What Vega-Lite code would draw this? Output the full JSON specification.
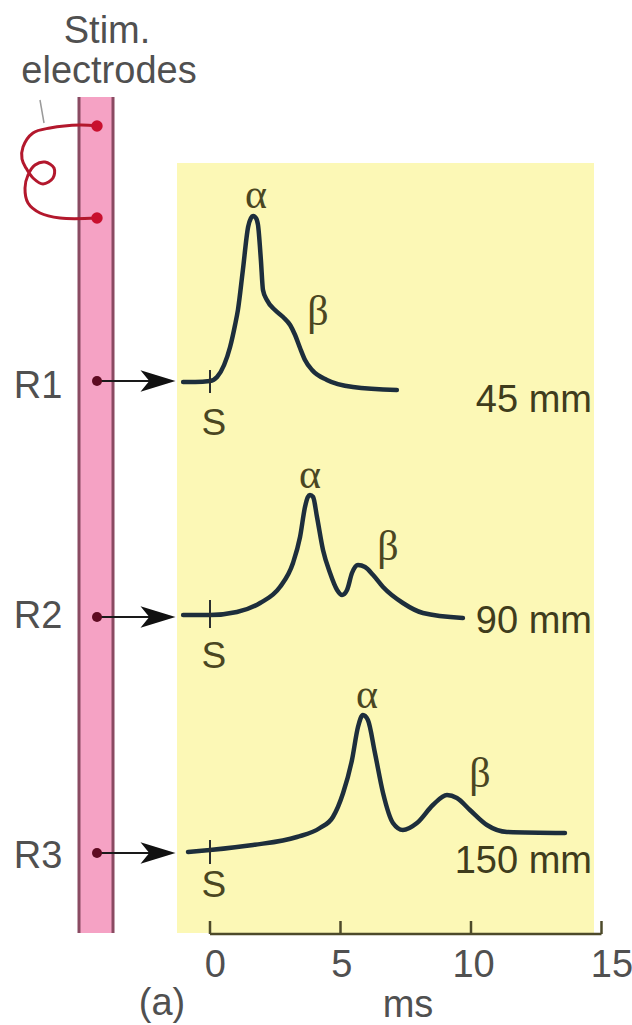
{
  "$schema": "https://vega.github.io/schema/vega-lite/v6.json",
  "width": 632,
  "height": 1025,
  "padding": 0,
  "autosize": {"type": "none"},
  "background": "white",
  "config": {"view": {"stroke": null}},
  "encoding": {
    "x": {"type": "quantitative", "scale": {"domain": [-8.046, 16.169], "nice": false, "zero": false}, "axis": null},
    "y": {"type": "quantitative", "scale": {"domain": [0, 102.5], "nice": false, "zero": false}, "axis": null}
  },
  "layer": [
    {
      "data": {"values": [{"x": -1.264, "x2": 14.713, "y": 86.2, "y2": 9.2}]},
      "mark": {"type": "rect", "fill": "#fcf8b6"},
      "encoding": {"x": {"field": "x"}, "x2": {"field": "x2"}, "y": {"field": "y"}, "y2": {"field": "y2"}}
    },
    {
      "data": {"values": [{"x": -5.0, "x2": -3.74, "y": 92.8, "y2": 9.2}]},
      "mark": {"type": "rect", "fill": "#f5a2c4"},
      "encoding": {"x": {"field": "x"}, "x2": {"field": "x2"}, "y": {"field": "y"}, "y2": {"field": "y2"}}
    },
    {
      "data": {"values": [{"x": -5.019, "y": 92.8, "y2": 9.2}, {"x": -3.716, "y": 92.8, "y2": 9.2}]},
      "mark": {"type": "rule", "stroke": "#8a4a62", "strokeWidth": 3},
      "encoding": {"x": {"field": "x"}, "y": {"field": "y"}, "y2": {"field": "y2"}}
    },
    {
      "data": {"values": [{"x": -6.513, "x2": -6.36, "y": 92.5, "y2": 90.2}]},
      "mark": {"type": "rule", "stroke": "#9a9a9a", "strokeWidth": 1.5},
      "encoding": {"x": {"field": "x"}, "x2": {"field": "x2"}, "y": {"field": "y"}, "y2": {"field": "y2"}}
    },
    {
      "data": {"values": [
        {"o": 1, "x": -4.330, "y": 89.9},
        {"o": 2, "x": -4.981, "y": 90.0},
        {"o": 3, "x": -6.130, "y": 89.7},
        {"o": 4, "x": -6.782, "y": 89.2},
        {"o": 5, "x": -7.165, "y": 87.8},
        {"o": 6, "x": -7.203, "y": 86.6},
        {"o": 7, "x": -7.050, "y": 85.7},
        {"o": 8, "x": -6.782, "y": 84.7},
        {"o": 9, "x": -6.398, "y": 84.1},
        {"o": 10, "x": -6.015, "y": 84.7},
        {"o": 11, "x": -5.977, "y": 85.7},
        {"o": 12, "x": -6.322, "y": 86.3},
        {"o": 13, "x": -6.705, "y": 86.0},
        {"o": 14, "x": -6.973, "y": 85.0},
        {"o": 15, "x": -7.088, "y": 83.7},
        {"o": 16, "x": -6.973, "y": 82.2},
        {"o": 17, "x": -6.513, "y": 81.2},
        {"o": 18, "x": -5.747, "y": 80.7},
        {"o": 19, "x": -4.330, "y": 80.7}
      ]},
      "mark": {"type": "line", "stroke": "#b3182d", "strokeWidth": 3, "interpolate": "catmull-rom"},
      "encoding": {"x": {"field": "x"}, "y": {"field": "y"}, "order": {"field": "o"}}
    },
    {
      "data": {"values": [{"x": -4.330, "y": 89.9}, {"x": -4.330, "y": 80.7}]},
      "mark": {"type": "point", "shape": "circle", "filled": true, "fill": "#c8102e", "size": 130, "opacity": 1},
      "encoding": {"x": {"field": "x"}, "y": {"field": "y"}}
    },
    {
      "data": {"values": [{"x": -4.330, "x2": -2.2, "y": 64.4}, {"x": -4.330, "x2": -2.2, "y": 40.8}, {"x": -4.330, "x2": -2.2, "y": 17.2}]},
      "mark": {"type": "rule", "stroke": "#1a1a1a", "strokeWidth": 2},
      "encoding": {"x": {"field": "x"}, "x2": {"field": "x2"}, "y": {"field": "y"}}
    },
    {
      "data": {"values": [{"x": -1.992, "y": 64.4}, {"x": -1.992, "y": 40.8}, {"x": -1.992, "y": 17.2}]},
      "mark": {"type": "point", "shape": "M1,0L-1,-0.62L-0.5,0L-1,0.62Z", "filled": true, "fill": "#111111", "size": 1225, "opacity": 1},
      "encoding": {"x": {"field": "x"}, "y": {"field": "y"}}
    },
    {
      "data": {"values": [{"x": -4.330, "y": 64.4}, {"x": -4.330, "y": 40.8}, {"x": -4.330, "y": 17.2}]},
      "mark": {"type": "point", "shape": "circle", "filled": true, "fill": "#5e0b22", "size": 100, "opacity": 1},
      "encoding": {"x": {"field": "x"}, "y": {"field": "y"}}
    },
    {
      "data": {"values": [
        {"trace": "R1", "ms": -1.03, "v": 64.3}, {"trace": "R1", "ms": -0.57, "v": 64.3}, {"trace": "R1", "ms": 0, "v": 64.4},
        {"trace": "R1", "ms": 0.27, "v": 64.8}, {"trace": "R1", "ms": 0.54, "v": 66.0}, {"trace": "R1", "ms": 0.77, "v": 67.8},
        {"trace": "R1", "ms": 0.96, "v": 70.0}, {"trace": "R1", "ms": 1.07, "v": 71.5}, {"trace": "R1", "ms": 1.26, "v": 75.5},
        {"trace": "R1", "ms": 1.46, "v": 79.8}, {"trace": "R1", "ms": 1.57, "v": 80.7}, {"trace": "R1", "ms": 1.65, "v": 80.9},
        {"trace": "R1", "ms": 1.76, "v": 80.7}, {"trace": "R1", "ms": 1.84, "v": 80.0}, {"trace": "R1", "ms": 1.95, "v": 76.5},
        {"trace": "R1", "ms": 2.03, "v": 73.5}, {"trace": "R1", "ms": 2.18, "v": 72.5}, {"trace": "R1", "ms": 2.49, "v": 71.5},
        {"trace": "R1", "ms": 2.80, "v": 70.8}, {"trace": "R1", "ms": 3.07, "v": 70.0}, {"trace": "R1", "ms": 3.26, "v": 69.0},
        {"trace": "R1", "ms": 3.45, "v": 67.7}, {"trace": "R1", "ms": 3.64, "v": 66.5}, {"trace": "R1", "ms": 3.91, "v": 65.5},
        {"trace": "R1", "ms": 4.48, "v": 64.5}, {"trace": "R1", "ms": 5.48, "v": 63.8}, {"trace": "R1", "ms": 7.16, "v": 63.5},

        {"trace": "R2", "ms": -1.03, "v": 41.0}, {"trace": "R2", "ms": 0, "v": 41.0}, {"trace": "R2", "ms": 1.03, "v": 41.3},
        {"trace": "R2", "ms": 1.92, "v": 42.2}, {"trace": "R2", "ms": 2.68, "v": 43.8}, {"trace": "R2", "ms": 3.18, "v": 46.2},
        {"trace": "R2", "ms": 3.45, "v": 48.8}, {"trace": "R2", "ms": 3.64, "v": 51.8}, {"trace": "R2", "ms": 3.75, "v": 52.8},
        {"trace": "R2", "ms": 3.83, "v": 53.0}, {"trace": "R2", "ms": 3.95, "v": 52.8}, {"trace": "R2", "ms": 4.10, "v": 50.8},
        {"trace": "R2", "ms": 4.33, "v": 47.5}, {"trace": "R2", "ms": 4.60, "v": 45.2}, {"trace": "R2", "ms": 4.87, "v": 43.5},
        {"trace": "R2", "ms": 5.06, "v": 43.0}, {"trace": "R2", "ms": 5.25, "v": 43.5}, {"trace": "R2", "ms": 5.44, "v": 45.2},
        {"trace": "R2", "ms": 5.67, "v": 46.0}, {"trace": "R2", "ms": 5.94, "v": 45.8}, {"trace": "R2", "ms": 6.25, "v": 45.0},
        {"trace": "R2", "ms": 6.63, "v": 43.8}, {"trace": "R2", "ms": 7.39, "v": 42.2}, {"trace": "R2", "ms": 8.16, "v": 41.2},
        {"trace": "R2", "ms": 9.69, "v": 40.7},

        {"trace": "R3", "ms": -0.84, "v": 17.3}, {"trace": "R3", "ms": 0, "v": 17.5}, {"trace": "R3", "ms": 1.65, "v": 18.0},
        {"trace": "R3", "ms": 3.33, "v": 18.8}, {"trace": "R3", "ms": 4.21, "v": 19.7}, {"trace": "R3", "ms": 4.71, "v": 20.8},
        {"trace": "R3", "ms": 5.10, "v": 23.2}, {"trace": "R3", "ms": 5.44, "v": 26.5}, {"trace": "R3", "ms": 5.67, "v": 29.8},
        {"trace": "R3", "ms": 5.86, "v": 31.0}, {"trace": "R3", "ms": 6.05, "v": 30.5}, {"trace": "R3", "ms": 6.32, "v": 27.2},
        {"trace": "R3", "ms": 6.63, "v": 23.2}, {"trace": "R3", "ms": 7.01, "v": 20.2}, {"trace": "R3", "ms": 7.39, "v": 19.5},
        {"trace": "R3", "ms": 7.93, "v": 20.2}, {"trace": "R3", "ms": 8.54, "v": 22.0}, {"trace": "R3", "ms": 9.08, "v": 23.0},
        {"trace": "R3", "ms": 9.46, "v": 22.7}, {"trace": "R3", "ms": 9.96, "v": 21.5}, {"trace": "R3", "ms": 10.61, "v": 20.0},
        {"trace": "R3", "ms": 11.38, "v": 19.3}, {"trace": "R3", "ms": 13.60, "v": 19.2}
      ]},
      "mark": {"type": "line", "stroke": "#1d2e3c", "strokeWidth": 4.5, "interpolate": "monotone", "strokeCap": "round"},
      "encoding": {"x": {"field": "ms"}, "y": {"field": "v"}, "detail": {"field": "trace"}}
    },
    {
      "data": {"values": [{"x": 0, "y": 65.5, "y2": 63.2}, {"x": 0, "y": 42.5, "y2": 39.7}, {"x": 0, "y": 18.5, "y2": 16.1}]},
      "mark": {"type": "rule", "stroke": "#2a2f30", "strokeWidth": 2},
      "encoding": {"x": {"field": "x"}, "y": {"field": "y"}, "y2": {"field": "y2"}}
    },
    {
      "data": {"values": [{"x": 0, "x2": 15, "y": 9.1}]},
      "mark": {"type": "rule", "stroke": "#4d4a2a", "strokeWidth": 2.5},
      "encoding": {"x": {"field": "x"}, "x2": {"field": "x2"}, "y": {"field": "y"}}
    },
    {
      "data": {"values": [{"x": 0, "y": 9.1, "y2": 10.4}, {"x": 5, "y": 9.1, "y2": 10.4}, {"x": 10, "y": 9.1, "y2": 10.4}, {"x": 15, "y": 9.1, "y2": 10.4}]},
      "mark": {"type": "rule", "stroke": "#4d4a2a", "strokeWidth": 2.5},
      "encoding": {"x": {"field": "x"}, "y": {"field": "y"}, "y2": {"field": "y2"}}
    },
    {
      "data": {"values": [
        {"x": -3.946, "y": 98.2, "t": "Stim."},
        {"x": -3.870, "y": 94.2, "t": "electrodes"},
        {"x": -6.590, "y": 62.7, "t": "R1"},
        {"x": -6.590, "y": 39.7, "t": "R2"},
        {"x": -6.590, "y": 15.7, "t": "R3"},
        {"x": 0.2, "y": 4.8, "t": "0"},
        {"x": 5.05, "y": 4.8, "t": "5"},
        {"x": 10.1, "y": 4.8, "t": "10"},
        {"x": 15.4, "y": 4.8, "t": "15"},
        {"x": 7.586, "y": 0.8, "t": "ms"},
        {"x": -1.839, "y": 1.0, "t": "(a)"}
      ]},
      "mark": {"type": "text", "font": "Liberation Sans", "fontSize": 38, "fill": "#505050", "align": "center", "baseline": "alphabetic"},
      "encoding": {"x": {"field": "x"}, "y": {"field": "y"}, "text": {"field": "t"}}
    },
    {
      "data": {"values": [
        {"x": 0.15, "y": 59.0, "t": "S"},
        {"x": 0.15, "y": 35.7, "t": "S"},
        {"x": 0.15, "y": 12.8, "t": "S"}
      ]},
      "mark": {"type": "text", "font": "Liberation Sans", "fontSize": 37, "fill": "#4a4622", "align": "center", "baseline": "alphabetic"},
      "encoding": {"x": {"field": "x"}, "y": {"field": "y"}, "text": {"field": "t"}}
    },
    {
      "data": {"values": [
        {"x": 14.636, "y": 61.3, "t": "45 mm"},
        {"x": 14.636, "y": 39.2, "t": "90 mm"},
        {"x": 14.636, "y": 15.2, "t": "150 mm"}
      ]},
      "mark": {"type": "text", "font": "Liberation Sans", "fontSize": 38, "fill": "#3f3c1c", "align": "right", "baseline": "alphabetic"},
      "encoding": {"x": {"field": "x"}, "y": {"field": "y"}, "text": {"field": "t"}}
    },
    {
      "data": {"values": [
        {"x": 1.762, "y": 83.0, "t": "α"},
        {"x": 4.138, "y": 71.3, "t": "β"},
        {"x": 3.831, "y": 55.0, "t": "α"},
        {"x": 6.820, "y": 47.8, "t": "β"},
        {"x": 6.015, "y": 33.0, "t": "α"},
        {"x": 10.345, "y": 25.1, "t": "β"}
      ]},
      "mark": {"type": "text", "font": "Liberation Serif", "fontSize": 42, "fill": "#4a4622", "align": "center", "baseline": "middle"},
      "encoding": {"x": {"field": "x"}, "y": {"field": "y"}, "text": {"field": "t"}}
    }
  ]
}
